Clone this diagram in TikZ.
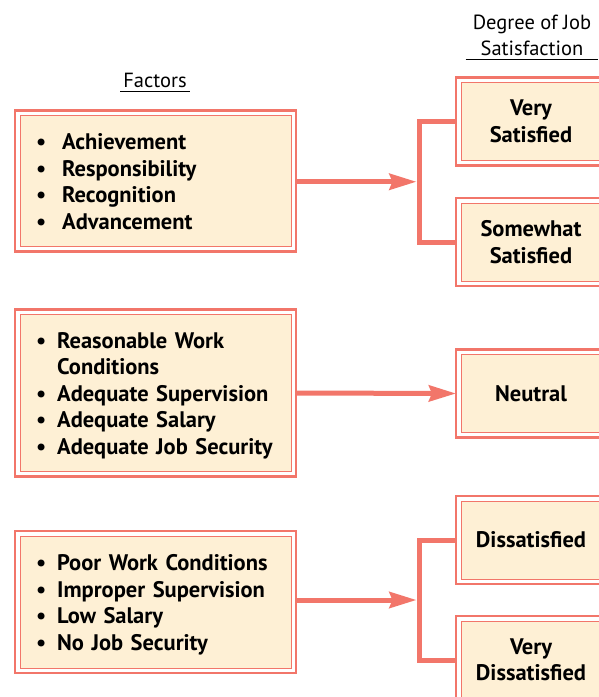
\documentclass[tikz,border=0pt]{standalone}
\usepackage{fontspec}
\setmainfont{PT Sans}
\usetikzlibrary{arrows.meta, positioning, calc}
\definecolor{salmon}{HTML}{F2766A}
\definecolor{cream}{HTML}{FEF0D5}

\begin{document}
\begin{tikzpicture}[x=1pt, y=-1pt,
    factorbox/.style={fill=cream, draw=salmon, line width=1pt, outer sep=5pt,
        minimum width=271pt, text width=239pt, inner xsep=16pt, align=left,
        font=\bfseries\fontsize{22.5}{26.5}\selectfont},
    degreebox/.style={fill=cream, draw=salmon, line width=1pt, outer sep=5pt,
        minimum width=140pt, minimum height=78pt, align=center,
        font=\bfseries\fontsize{22.5}{26.5}\selectfont},
    outerline/.style={draw=salmon, line width=2.6pt},
    flow/.style={draw=salmon, line width=5pt, -{Stealth[length=27pt, width=16pt, inset=3pt]}},
    bracket/.style={draw=salmon, line width=5pt},
    heading/.style={font=\fontsize{20.5}{26}\selectfont},
    rule/.style={line width=0.8pt}]
    \useasboundingbox (0,0) rectangle (599,697);
    \clip (0,0) rectangle (599,697);

    % headings
    \node[heading, anchor=base, inner xsep=3pt] (fac) at (155,87) {Factors};
    \draw[rule] ([yshift=-4pt]fac.base west) -- ([yshift=-4pt]fac.base east);
    \node[heading, align=center, anchor=south, inner xsep=7pt, inner ysep=0pt] (deg) at (532,55.5)
        {Degree of Job\\Satisfaction};
    \draw[rule] ([yshift=-4pt]deg.south west) -- ([yshift=-4pt]deg.south east);

    % factors
    \node[factorbox, minimum height=131pt] (f1) at (155.5,181) {%
        \raisebox{-3pt}[\height][\depth]{%
        \begin{tabular}{@{}l@{\hspace{16pt}}l@{}}
        \textbullet & Achievement\\
        \textbullet & Responsibility\\
        \textbullet & Recognition\\
        \textbullet & Advancement
        \end{tabular}}};
    \node[factorbox, minimum height=157pt] (f2) at (155.5,393) {%
        \raisebox{-3pt}[\height][\depth]{%
        \begin{tabular}{@{}l@{\hspace{11pt}}l@{}}
        \textbullet & Reasonable Work\\
                    & Conditions\\
        \textbullet & Adequate Supervision\\
        \textbullet & Adequate Salary\\
        \textbullet & Adequate Job Security
        \end{tabular}}};
    \node[factorbox, minimum height=132pt] (f3) at (155.5,602) {%
        \raisebox{-3pt}[\height][\depth]{%
        \begin{tabular}{@{}l@{\hspace{11pt}}l@{}}
        \textbullet & Poor Work Conditions\\
        \textbullet & Improper Supervision\\
        \textbullet & Low Salary\\
        \textbullet & No Job Security
        \end{tabular}}};

    % degree of satisfaction
    \node[degreebox] (vs) at (531,121.5) {Very\\Satisfied};
    \node[degreebox] (ss) at (531,242) {Somewhat\\Satisfied};
    \node[degreebox] (nl) at (531,393.5) {Neutral};
    \node[degreebox] (ds) at (531,540) {Dissatisfied};
    \node[degreebox] (vd) at (531,660) {Very\\Dissatisfied};

    % double frames
    \foreach \n in {f1,f2,f3,vs,ss,nl,ds,vd}
        \draw[outerline] (\n.north west) rectangle (\n.south east);

    % brackets and arrows
    \coordinate (b1) at ($(vs.west)!0.5!(ss.west) + (-37,0)$);
    \coordinate (b3) at ($(ds.west)!0.5!(vd.west) + (-37,0)$);
    \draw[bracket] (vs.west) -| (b1) |- (ss.west);
    \draw[bracket] (ds.west) -| (b3) |- (vd.west);
    \draw[flow, shorten >=2.5pt] (f1.east |- b1) -- (b1);
    \draw[flow] (f2.east) -- (nl.west);
    \draw[flow, shorten >=2.5pt] (f3.east |- b3) -- (b3);
\end{tikzpicture}
\end{document}
